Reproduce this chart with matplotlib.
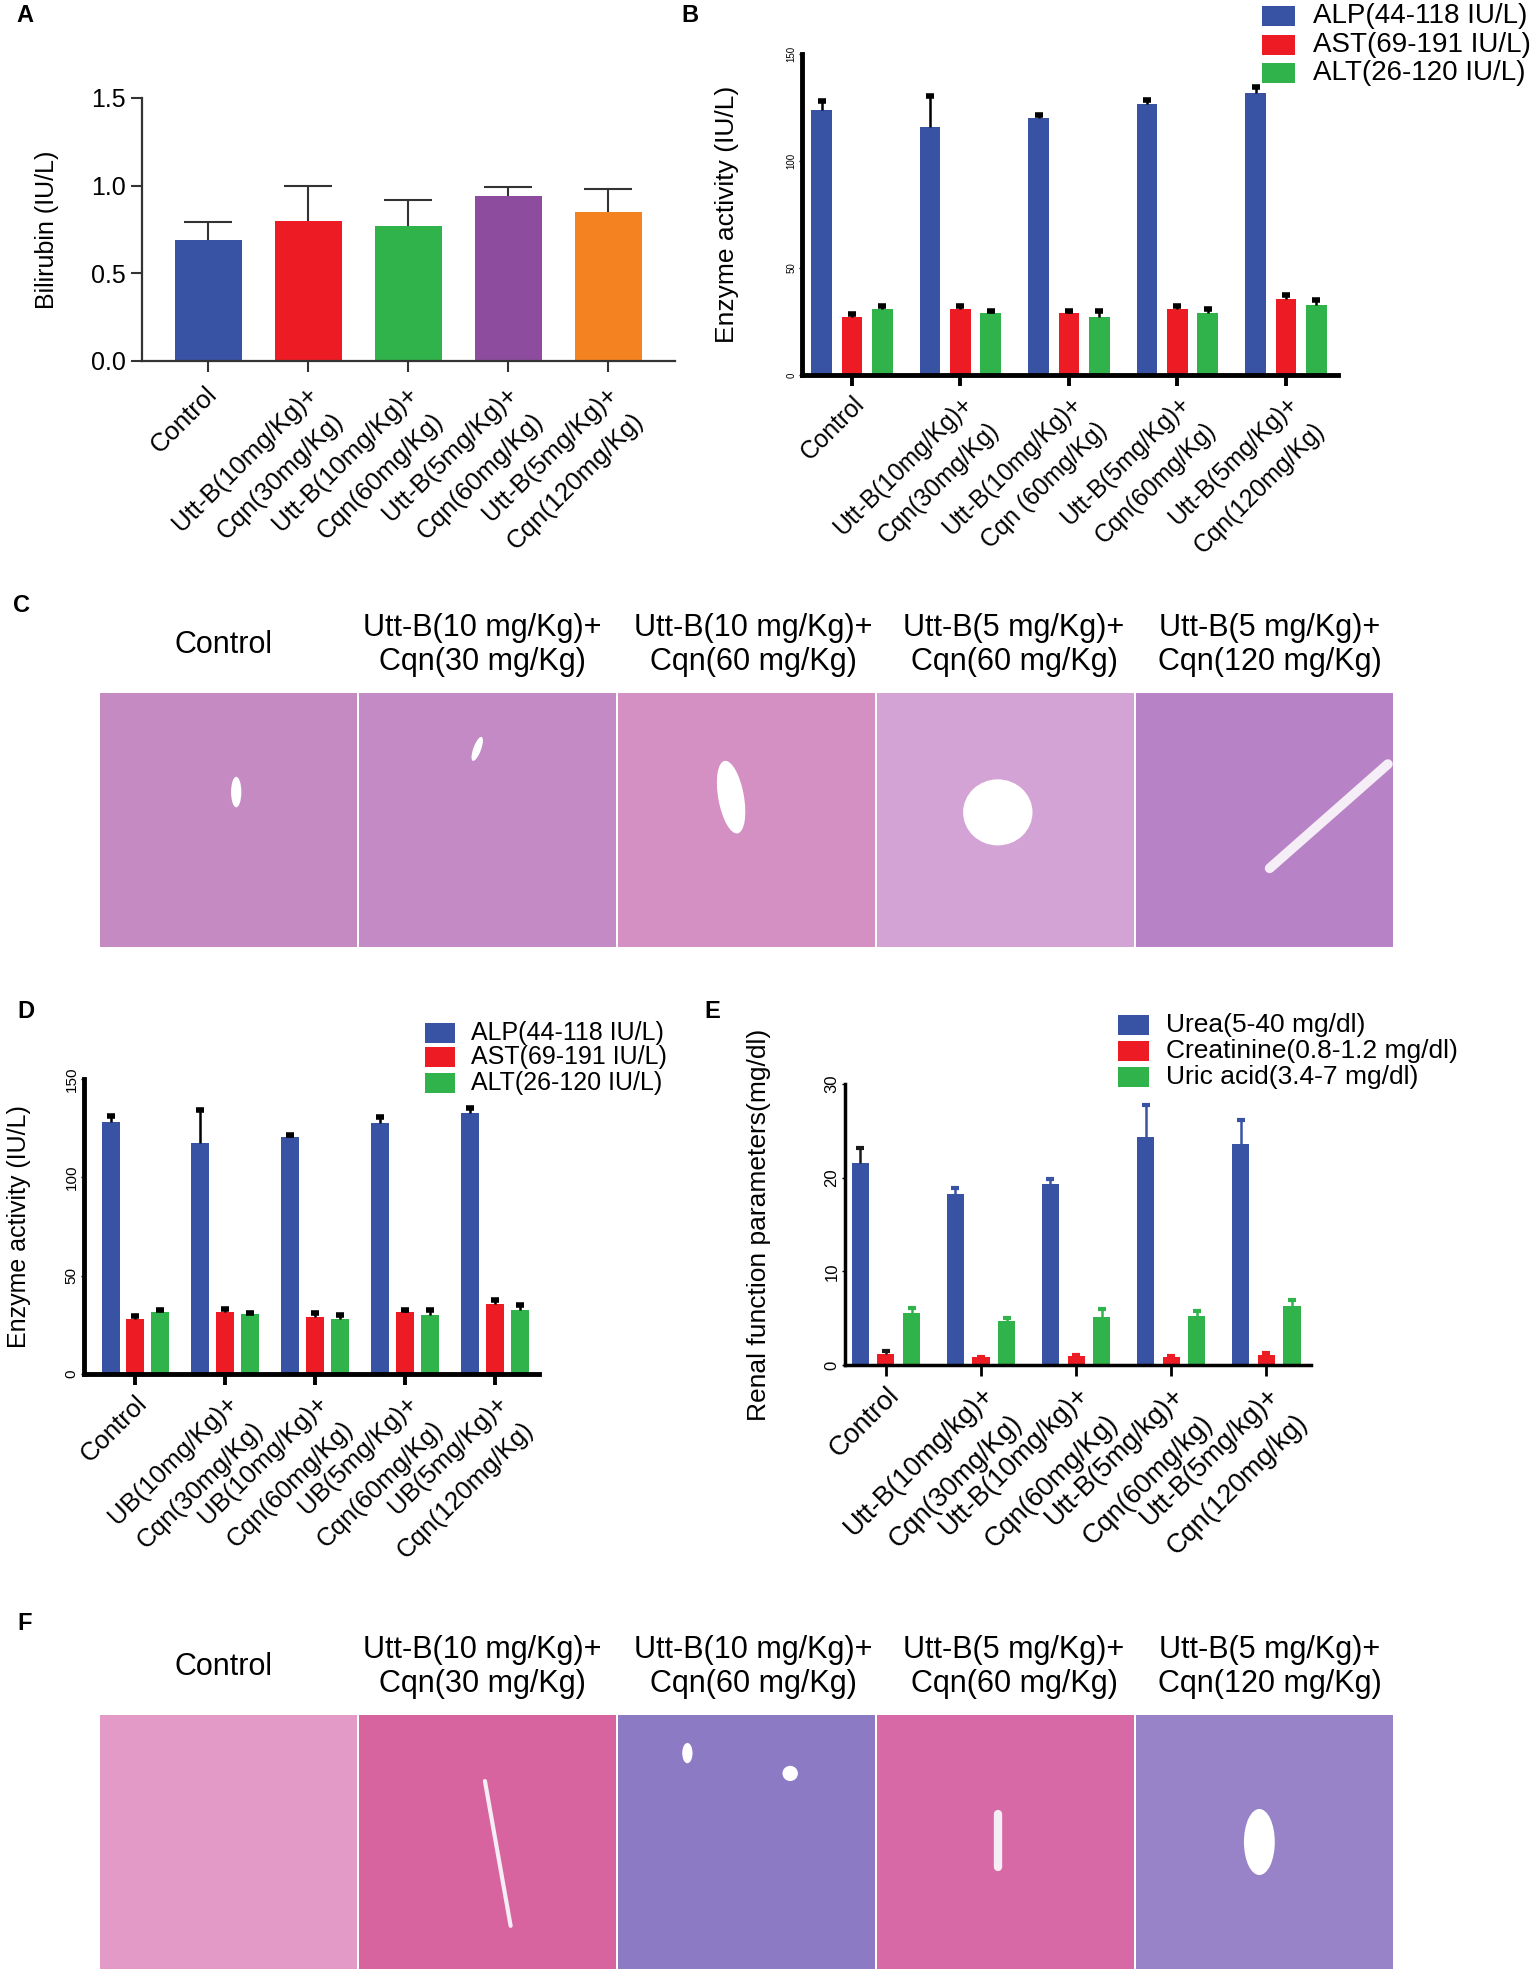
import numpy as np
import matplotlib
matplotlib.use('Agg')
import matplotlib.pyplot as plt
import matplotlib.transforms as mtrans
from matplotlib.patches import Rectangle, Ellipse

W, H = 1535, 1971
plt.rcParams['font.family'] = ['Liberation Sans', 'DejaVu Sans']

# ---------------- data ----------------
groups_a = ['Control', 'Utt-B(10mg/Kg)+\nCqn(30mg/Kg)', 'Utt-B(10mg/Kg)+\nCqn(60mg/Kg)',
            'Utt-B(5mg/Kg)+\nCqn(60mg/Kg)', 'Utt-B(5mg/Kg)+\nCqn(120mg/Kg)']
bilirubin = [0.69, 0.80, 0.77, 0.94, 0.85]
bilirubin_err = [0.10, 0.20, 0.15, 0.05, 0.13]
colors_a = ['#3953a4', '#ed1c24', '#30b34a', '#8d4c9e', '#f58220']

groups_b = ['Control', 'Utt-B(10mg/Kg)+\nCqn(30mg/Kg)', 'Utt-B(10mg/Kg)+\nCqn (60mg/Kg)',
            'Utt-B(5mg/Kg)+\nCqn(60mg/Kg)', 'Utt-B(5mg/Kg)+\nCqn(120mg/Kg)']
alp_b = [123.7, 115.9, 120.2, 126.8, 131.8]
alp_b_err = [4.5, 14.3, 1.3, 1.5, 2.8]
ast_b = [27.0, 30.7, 29.2, 30.7, 35.7]
ast_b_err = [1.4, 1.6, 0.9, 1.6, 1.6]
alt_b = [30.7, 29.0, 27.0, 29.2, 32.7]
alt_b_err = [1.7, 1.1, 2.9, 1.7, 2.4]

groups_d = ['Control', 'UB(10mg/Kg)+\nCqn(30mg/Kg)', 'UB(10mg/Kg)+\nCqn(60mg/Kg)',
            'UB(5mg/Kg)+\nCqn(60mg/Kg)', 'UB(5mg/Kg)+\nCqn(120mg/Kg)']
alp_d = [128.3, 117.3, 120.7, 127.8, 132.9]
alp_d_err = [2.9, 16.9, 0.7, 2.7, 2.2]
ast_d = [27.9, 31.7, 29.1, 31.5, 35.5]
ast_d_err = [1.7, 1.5, 1.9, 0.8, 1.9]
alt_d = [31.7, 30.3, 27.9, 30.1, 32.5]
alt_d_err = [0.6, 0.8, 2.2, 2.6, 2.7]
enzyme_names = ['ALP(44-118 IU/L)', 'AST(69-191 IU/L)', 'ALT(26-120 IU/L)']

groups_e = ['Control', 'Utt-B(10mg/kg)+\nCqn(30mg/Kg)', 'Utt-B(10mg/kg)+\nCqn(60mg/Kg)',
            'Utt-B(5mg/kg)+\nCqn(60mg/kg)', 'Utt-B(5mg/kg)+\nCqn(120mg/kg)']
urea = [21.6, 18.3, 19.3, 24.3, 23.6]
urea_err = [1.6, 0.6, 0.6, 3.5, 2.6]
creat = [1.18, 0.85, 0.96, 0.85, 1.10]
creat_err = [0.35, 0.05, 0.14, 0.15, 0.20]
uric = [5.56, 4.74, 5.13, 5.27, 6.30]
uric_err = [0.50, 0.28, 0.85, 0.50, 0.65]
renal_names = ['Urea(5-40 mg/dl)', 'Creatinine(0.8-1.2 mg/dl)', 'Uric acid(3.4-7 mg/dl)']

histo_titles = ['Control', 'Utt-B(10 mg/Kg)+\nCqn(30 mg/Kg)', 'Utt-B(10 mg/Kg)+\nCqn(60 mg/Kg)',
                'Utt-B(5 mg/Kg)+\nCqn(60 mg/Kg)', 'Utt-B(5 mg/Kg)+\nCqn(120 mg/Kg)']
liver_tones = ['#c68ac3', '#c38ac5', '#d48fc3', '#d4a3d6', '#b883c6']
kidney_tones = ['#e49ac6', '#d8649f', '#8c7ac4', '#d76aa6', '#9883c8']

BLUE, RED, GREEN = '#3953a4', '#ed1c24', '#30b34a'


# -------------------------------------------------------
def px_axes(fig, l, t, r, b):
    return fig.add_axes([l / W, 1 - b / H, (r - l) / W, (b - t) / H])


def panel_letter(fig, x, y, s):
    fig.text(x / W, 1 - y / H, s, fontsize=17, fontweight='bold', ha='center', va='center')


def key(fig, x, ys, names, colors, pw, ph, tx, size):
    for y, n, c in zip(ys, names, colors):
        fig.add_artist(Rectangle((x / W, 1 - (y + ph / 2) / H), pw / W, ph / H,
                                 transform=fig.transFigure, color=c, lw=0))
        fig.text(tx / W, 1 - y / H, n, fontsize=size, ha='left', va='center')


def up_err(ax, x, y, e, color, lw, cap, capth, z=3):
    # upper half of the error bar only (Prism style)
    eb = ax.errorbar(x, y, yerr=[[0], [e]], fmt='none', ecolor=color, elinewidth=lw,
                     capsize=cap, capthick=capth, zorder=z)
    eb[1][0].set_visible(False)


def grouped(ax, series, errs, colors, ecolors, offset, width, cap, capth, elw):
    x = np.arange(5)
    for k in range(3):
        pos = x + (k - 1) * offset
        ax.bar(pos, series[k], width, color=colors[k], zorder=2)
        for i in range(5):
            up_err(ax, pos[i], series[k][i], errs[k][i], ecolors[k][i], elw, cap, capth)


def slanted_labels(ax, labels, fs, dx, dy):
    ax.set_xticks(range(len(labels)))
    ax.set_xticklabels(labels, rotation=45, ha='right', va='top', rotation_mode='anchor',
                       fontsize=fs, linespacing=1.7)
    off = mtrans.ScaledTranslation(dx / 100, dy / 100, fig.dpi_scale_trans)
    for t in ax.get_xticklabels():
        t.set_transform(t.get_transform() + off)


def style_group_axes(ax, labels, lw, fs, shift, ylabel, ylfs, ytfs, ylx):
    for s in ['top', 'right']:
        ax.spines[s].set_visible(False)
    for s in ['left', 'bottom']:
        ax.spines[s].set_linewidth(lw)
    slanted_labels(ax, labels, fs, shift[0], shift[1])
    ax.tick_params(axis='x', length=8, width=lw * 0.8, pad=4)
    ax.tick_params(axis='y', length=2, width=1, labelsize=ytfs, pad=2)
    for t in ax.get_yticklabels():
        t.set_rotation(90)
        t.set_va('center')
    ax.set_ylabel(ylabel, fontsize=ylfs)
    ax.yaxis.set_label_coords(ylx, 0.5)


def histo_row(fig, top, bottom, tones, title_y, title_x, vessels):
    lefts = [100, 359, 618, 877, 1136]
    for i, l in enumerate(lefts):
        ax = px_axes(fig, l, top, l + 257, bottom)
        ax.set_facecolor(tones[i])
        ax.set_xlim(0, 1)
        ax.set_ylim(0, 1)
        ax.set_xticks([])
        ax.set_yticks([])
        for s in ax.spines.values():
            s.set_visible(False)
        for v in vessels.get(i, []):
            if v[0] == 'e':
                ax.add_patch(Ellipse(v[1], v[2], v[3], angle=v[4], color='white', lw=0))
            else:
                ax.plot([v[1][0], v[2][0]], [v[1][1], v[2][1]], color='#f6eef6',
                        lw=v[3], solid_capstyle='round')
        fig.text(title_x[i] / W, 1 - title_y / H, histo_titles[i], fontsize=22,
                 ha='center', va='center', linespacing=1.15)


fig = plt.figure(figsize=(W / 100, H / 100), dpi=100)

# ---------------- A ----------------
axA = px_axes(fig, 142, 98, 675, 361)
xa = np.arange(5)
axA.bar(xa, bilirubin, 0.67, color=colors_a, zorder=2)
for i in range(5):
    up_err(axA, xa[i], bilirubin[i], bilirubin_err[i], '#333333', 1.5, 17, 1.5)
axA.set_xlim(-0.66, 4.67)
axA.set_ylim(0, 1.5)
axA.set_yticks([0, 0.5, 1.0, 1.5])
axA.set_yticklabels(['0.0', '0.5', '1.0', '1.5'])
for s in ['top', 'right']:
    axA.spines[s].set_visible(False)
for s in ['left', 'bottom']:
    axA.spines[s].set_linewidth(1.6)
    axA.spines[s].set_color('#333333')
axA.tick_params(axis='both', length=8, width=1.5, color='#333333', labelsize=18)
slanted_labels(axA, groups_a, 18.5, -3, -5)
axA.set_ylabel('Bilirubin (IU/L)', fontsize=18)
axA.yaxis.set_label_coords(-0.156, 0.5)
panel_letter(fig, 25, 15, 'A')

# ---------------- B ----------------
axB = px_axes(fig, 802, 54, 1338, 375)
grouped(axB, [alp_b, ast_b, alt_b], [alp_b_err, ast_b_err, alt_b_err], [BLUE, RED, GREEN],
        [['k'] * 5] * 3, 0.28, 0.19, 3, 4, 1.8)
axB.set_xlim(-0.46, 4.48)
axB.set_ylim(0, 150)
axB.set_yticks([0, 50, 100, 150])
style_group_axes(axB, groups_b, 3.5, 17.7, (-7, 0), 'Enzyme activity (IU/L)', 19, 7, -0.118)
key(fig, 1262, [16, 45, 73], enzyme_names, [BLUE, RED, GREEN], 33, 20, 1313, 20)
panel_letter(fig, 690, 15, 'B')

# ---------------- C ----------------
panel_letter(fig, 22, 606, 'C')
liver_vessels = {
    0: [('e', (0.53, 0.61), 0.04, 0.12, 0)],
    1: [('e', (0.46, 0.78), 0.03, 0.10, -20)],
    2: [('e', (0.44, 0.59), 0.10, 0.29, 10)],
    3: [('e', (0.47, 0.53), 0.27, 0.26, 0)],
    4: [('l', (0.98, 0.72), (0.52, 0.31), 7)],
}
histo_row(fig, 693, 947, liver_tones, 645, [224, 482, 753, 1014, 1270], liver_vessels)

# ---------------- D ----------------
axD = px_axes(fig, 84, 1079, 539, 1374)
grouped(axD, [alp_d, ast_d, alt_d], [alp_d_err, ast_d_err, alt_d_err], [BLUE, RED, GREEN],
        [['k'] * 5] * 3, 0.275, 0.2, 3, 4, 1.8)
axD.set_xlim(-0.57, 4.49)
axD.set_ylim(0, 150)
axD.set_yticks([0, 50, 100, 150])
style_group_axes(axD, groups_d, 3.5, 18.5, (-12, 0), 'Enzyme activity (IU/L)', 18, 11, -0.116)
key(fig, 425, [1033, 1057, 1083], enzyme_names, [BLUE, RED, GREEN], 30, 20, 471, 18)
panel_letter(fig, 26, 1012, 'D')

# ---------------- E ----------------
axE = px_axes(fig, 845, 1084, 1311, 1365)
ecol_e = [['#1a1a1a'] + [BLUE] * 4, ['#1a1a1a'] + [RED] * 4, [GREEN] * 5]
grouped(axE, [urea, creat, uric], [urea_err, creat_err, uric_err], [BLUE, RED, GREEN],
        ecol_e, 0.27, 0.18, 3, 3, 1.8)
axE.set_xlim(-0.43, 4.47)
axE.set_ylim(0, 30)
axE.set_yticks([0, 10, 20, 30])
style_group_axes(axE, groups_e, 2.5, 19.5, (-7, -4), 'Renal function parameters(mg/dl)', 19, 12, -0.159)
key(fig, 1118, [1025, 1051, 1077], renal_names, [BLUE, RED, GREEN], 31, 20, 1166, 19)
panel_letter(fig, 712, 1012, 'E')

# ---------------- F ----------------
panel_letter(fig, 25, 1623, 'F')
kidney_vessels = {
    1: [('l', (0.49, 0.74), (0.59, 0.17), 3)],
    2: [('e', (0.27, 0.85), 0.04, 0.08, 0), ('e', (0.67, 0.77), 0.06, 0.06, 0)],
    3: [('l', (0.47, 0.61), (0.47, 0.40), 6)],
    4: [('e', (0.48, 0.50), 0.12, 0.26, 0)],
}
histo_row(fig, 1715, 1969, kidney_tones, 1667, [224, 482, 753, 1014, 1270], kidney_vessels)

fig.savefig('out.png', dpi=100)
